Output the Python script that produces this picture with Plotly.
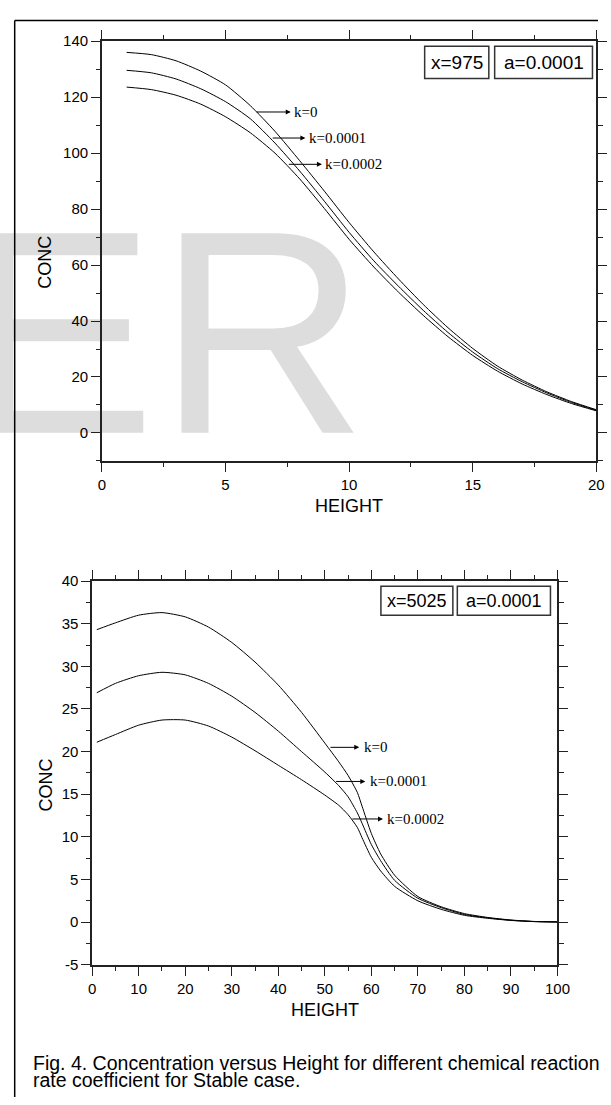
import plotly.graph_objects as go

# ---------------- data ----------------
height_top = [1, 2, 3, 4, 5, 6, 7, 8, 9, 10, 11, 12, 13, 14, 15, 16, 17, 18, 19, 20]
conc_top_k0 = [136.0, 135.2, 133.0, 129.3, 124.4, 117.0, 107.8, 97.3, 86.4, 75.2,
               64.7, 55.0, 45.9, 37.6, 30.2, 23.9, 18.9, 14.7, 11.2, 8.3]
conc_top_k1 = [129.6, 128.7, 126.5, 123.0, 118.4, 112.3, 103.6, 93.6, 82.8, 71.7,
               61.5, 52.4, 43.8, 35.9, 28.9, 23.0, 18.3, 14.3, 10.9, 8.1]
conc_top_k2 = [123.6, 122.7, 120.7, 117.5, 113.0, 107.3, 100.0, 90.8, 80.2, 69.2,
               59.3, 50.3, 42.0, 34.4, 27.7, 22.1, 17.5, 13.7, 10.5, 7.9]

height_bot = [1, 5, 10, 15, 20, 25, 30, 35, 40, 45, 50, 53, 55, 57, 58, 60, 62, 65,
              70, 75, 80, 85, 90, 95, 100]
conc_bot_k0 = [34.3, 35.1, 36.0, 36.3, 35.8, 34.6, 32.8, 30.5, 27.8, 24.6, 21.0, 18.8,
               17.2, 15.2, 13.6, 10.4, 8.0, 5.5, 3.0, 1.8, 1.0, 0.55, 0.25, 0.08, 0.02]
conc_bot_k1 = [26.9, 28.0, 28.9, 29.3, 29.0, 28.0, 26.5, 24.6, 22.4, 20.0, 17.6, 16.0,
               14.7, 12.8, 11.6, 9.1, 7.2, 4.9, 2.8, 1.7, 0.9, 0.5, 0.22, 0.07, 0.02]
conc_bot_k2 = [21.1, 22.0, 23.1, 23.7, 23.7, 23.0, 21.7, 20.1, 18.4, 16.7, 14.9, 13.7,
               12.6, 11.1, 9.9, 7.6, 6.0, 4.2, 2.5, 1.5, 0.8, 0.45, 0.2, 0.06, 0.02]

series_names = ["k=0", "k=0.0001", "k=0.0002"]
box_top = ["x=975", "a=0.0001"]
box_bot = ["x=5025", "a=0.0001"]
bot_ytick_vals = [-5, 0, 5, 10, 15, 20, 25, 30, 35, 40]
bot_ytick_text = ["-5", "0", "5", "10", "15", "20", "25", "30", "35", "40"]
caption_lines = ["Fig. 4. Concentration versus Height for different chemical reaction",
                 "rate coefficient for Stable case."]
watermark_letters = ["E", "R"]

# ---------------- layout helpers ----------------
W, H = 611, 1105


def px(p):
    return p / W


def py(p):
    return 1 - p / H


SANS = "Liberation Sans, Arial, sans-serif"
SERIF = "Liberation Serif, Times New Roman, serif"

fig = go.Figure()

# watermark letters (first subplot -> drawn beneath the charts)
wm_font = dict(family=SANS, size=290, color="#dddddd")
fig.add_trace(go.Scatter(x=[156.0], y=[356.8], mode="text", text=[watermark_letters[0]],
                         textposition="middle left", cliponaxis=False, textfont=wm_font,
                         hoverinfo="skip", showlegend=False, xaxis="x", yaxis="y"))
fig.add_trace(go.Scatter(x=[158.1], y=[356.8], mode="text", text=[watermark_letters[1]],
                         textposition="middle right", cliponaxis=False, textfont=wm_font,
                         hoverinfo="skip", showlegend=False, xaxis="x", yaxis="y"))

for ys in (conc_top_k0, conc_top_k1, conc_top_k2):
    fig.add_trace(go.Scatter(x=height_top, y=ys, mode="lines",
                             line=dict(color="black", width=1, shape="spline", smoothing=0.6),
                             showlegend=False, xaxis="x2", yaxis="y2"))
for ys in (conc_bot_k0, conc_bot_k1, conc_bot_k2):
    fig.add_trace(go.Scatter(x=height_bot, y=ys, mode="lines",
                             line=dict(color="black", width=1, shape="spline", smoothing=0.6),
                             showlegend=False, xaxis="x3", yaxis="y3"))

axis_common = dict(showline=True, linewidth=1.5, linecolor="#222", mirror="allticks",
                   ticks="outside", ticklen=9, tickwidth=1.3, tickcolor="#222",
                   showgrid=False, zeroline=False,
                   tickfont=dict(family=SANS, size=15, color="black"))

fig.update_layout(
    width=W, height=H, autosize=False,
    margin=dict(l=0, r=0, t=0, b=0),
    paper_bgcolor="white", plot_bgcolor="rgba(0,0,0,0)",
    xaxis=dict(domain=[0, 1], range=[0, W], visible=False, fixedrange=True),
    yaxis=dict(domain=[0, 1], range=[H, 0], visible=False, fixedrange=True),
    xaxis2=dict(domain=[px(100.7), px(609.3)], range=[0, 20], anchor="y2",
                tick0=0, dtick=5,
                minor=dict(dtick=2.5, ticks="outside", ticklen=4.5, tickcolor="#222"),
                **axis_common),
    yaxis2=dict(domain=[py(459), py(32.7)], range=[-10, 140], anchor="x2",
                tick0=0, dtick=20,
                minor=dict(dtick=10, ticks="outside", ticklen=4.5, tickcolor="#222"),
                **axis_common),
    xaxis3=dict(domain=[px(90.7), px(569.3)], range=[0, 100], anchor="y3",
                tick0=0, dtick=10,
                minor=dict(dtick=5, ticks="outside", ticklen=4.5, tickcolor="#222"),
                **axis_common),
    yaxis3=dict(domain=[py(970.7), py(581)], range=[-5, 40], anchor="x3",
                tickvals=bot_ytick_vals, ticktext=bot_ytick_text,
                minor=dict(dtick=2.5, ticks="outside", ticklen=4.5, tickcolor="#222"),
                **axis_common),
)

ann = []


def paper_text(text, x, y, size, angle=0, xanchor="center", family=SANS):
    return dict(text=text, x=px(x), y=py(y), xref="paper", yref="paper",
                xanchor=xanchor, yanchor="middle", textangle=angle, showarrow=False,
                font=dict(family=family, size=size, color="black"))


# axis titles
ann.append(paper_text("HEIGHT", 355, 505, 18))
ann.append(paper_text("CONC", 41.8, 257, 18, angle=-90))
ann.append(paper_text("HEIGHT", 330.3, 1016.5, 18))
ann.append(paper_text("CONC", 43.2, 787.7, 18, angle=-90))

# caption
ann.append(paper_text(caption_lines[0], 28, 1070.5, 19.5, xanchor="left"))
ann.append(paper_text(caption_lines[1], 28, 1088.2, 19.5, xanchor="left"))

# boxed parameter labels
shapes = []
for (x0, x1, y0, y1), t in zip([(432.7, 498.7, 37.8, 70.5), (504.7, 605.3, 37.8, 70.5)], box_top):
    shapes.append(dict(type="rect", xref="paper", yref="paper", x0=px(x0), x1=px(x1),
                       y0=py(y1), y1=py(y0), line=dict(color="#333", width=1.5)))
    ann.append(paper_text(t, (x0 + x1) / 2, (y0 + y1) / 2, 19))
for (x0, x1, y0, y1), t in zip([(387.7, 461.7, 586.2, 615.7), (466.3, 562.1, 586.2, 615.7)], box_bot):
    shapes.append(dict(type="rect", xref="paper", yref="paper", x0=px(x0), x1=px(x1),
                       y0=py(y1), y1=py(y0), line=dict(color="#333", width=1.5)))
    ann.append(paper_text(t, (x0 + x1) / 2, (y0 + y1) / 2, 18))

# outer frame (left and top edge)
shapes.append(dict(type="line", xref="paper", yref="paper", x0=px(11), x1=px(11),
                   y0=0, y1=py(11.7), line=dict(color="black", width=1.5)))
shapes.append(dict(type="line", xref="paper", yref="paper", x0=px(11), x1=1,
                   y0=py(11.7), y1=py(11.7), line=dict(color="black", width=1.5)))

# series labels with arrows: (tail x, tail y, head x, label x)
top_arrows = [(6.2, 114.7, 7.64, 7.7), (6.85, 105.4, 8.23, 8.3), (7.5, 96.0, 8.9, 8.95)]
bot_arrows = [(50.9, 20.5, 57.4, 58.0), (52.1, 16.5, 58.7, 59.2), (55.6, 12.1, 62.5, 62.9)]
for axn, arrows in (("2", top_arrows), ("3", bot_arrows)):
    for (tx, ty, hx, lx), name in zip(arrows, series_names):
        ann.append(dict(text="", x=hx, y=ty, ax=tx, ay=ty, xref="x" + axn, yref="y" + axn,
                        axref="x" + axn, ayref="y" + axn, showarrow=True, arrowhead=2,
                        arrowsize=1, arrowwidth=1, arrowcolor="black"))
        ann.append(dict(text=name, x=lx, y=ty, xref="x" + axn, yref="y" + axn,
                        xanchor="left", yanchor="middle", showarrow=False,
                        font=dict(family=SERIF, size=15, color="black")))

fig.update_layout(annotations=ann, shapes=shapes)

fig.write_html("out.html")
